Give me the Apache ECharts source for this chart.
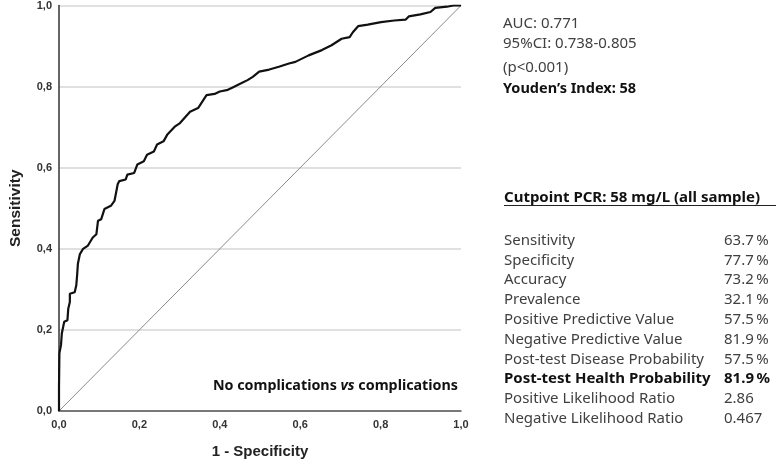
<!DOCTYPE html>
<html>
<head>
<meta charset="utf-8">
<script src="https://cdn.jsdelivr.net/npm/echarts@6/dist/echarts.min.js"></script>
<style>
  html, body { margin: 0; padding: 0; background: #fff; }
  #roc { width: 779px; height: 464px; }
</style>
</head>
<body>
<div id="roc"></div>
<script>
// ROC curve points (1 - specificity, sensitivity)
const fpr = [0, 0, 0.001, 0.005, 0.007, 0.013, 0.021, 0.023, 0.027, 0.027, 0.039, 0.043, 0.045, 0.047, 0.052,
  0.060, 0.072, 0.084, 0.093, 0.097, 0.105, 0.113, 0.129, 0.138, 0.146, 0.150, 0.166, 0.170, 0.187, 0.195,
  0.211, 0.219, 0.236, 0.244, 0.260, 0.269, 0.289, 0.301, 0.326, 0.346, 0.367, 0.387, 0.400, 0.420, 0.432,
  0.453, 0.469, 0.482, 0.498, 0.523, 0.547, 0.572, 0.588, 0.621, 0.654, 0.678, 0.703, 0.723, 0.731, 0.744,
  0.768, 0.801, 0.834, 0.862, 0.870, 0.899, 0.924, 0.936, 0.965, 0.981, 1.0];
const tpr = [0, 0.06, 0.142, 0.163, 0.191, 0.220, 0.224, 0.252, 0.269, 0.289, 0.293, 0.310, 0.334, 0.363, 0.387,
  0.400, 0.408, 0.428, 0.436, 0.469, 0.473, 0.498, 0.506, 0.518, 0.559, 0.567, 0.571, 0.583, 0.587, 0.608,
  0.616, 0.632, 0.640, 0.657, 0.665, 0.681, 0.702, 0.710, 0.738, 0.747, 0.779, 0.782, 0.788, 0.792, 0.798,
  0.808, 0.816, 0.824, 0.837, 0.842, 0.849, 0.857, 0.861, 0.877, 0.890, 0.902, 0.918, 0.922, 0.934, 0.949,
  0.953, 0.959, 0.963, 0.965, 0.973, 0.978, 0.984, 0.994, 0.997, 1.0, 1.0];
const refLine = [[0, 0], [1, 1]];

const summaryLines = ['AUC: 0.771', '95%CI: 0.738-0.805', '(p<0.001)'];
const youdenLine = 'Youden\u2019s Index: 58';
const cutpointTitle = 'Cutpoint PCR: 58 mg/L (all sample)';
const statNames = ['Sensitivity', 'Specificity', 'Accuracy', 'Prevalence', 'Positive Predictive Value',
  'Negative Predictive Value', 'Post-test Disease Probability', 'Post-test Health Probability',
  'Positive Likelihood Ratio', 'Negative Likelihood Ratio'];
const statValues = ['63.7\u2009%', '77.7\u2009%', '73.2\u2009%', '32.1\u2009%', '57.5\u2009%',
  '81.9\u2009%', '57.5\u2009%', '81.9\u2009%', '2.86', '0.467'];
const boldRow = 7;

const chart = echarts.init(document.getElementById('roc'));
const comma = v => v.toFixed(1).replace('.', ',');
const txtFont = '"Noto Sans", "Open Sans", sans-serif';
const axFont = 'Arial, "Liberation Sans", sans-serif';

let graphics = [];
summaryLines.forEach((t, i) => {
  graphics.push({ type: 'text', left: 503, top: [16, 36, 60][i],
    style: { text: t, font: '15px ' + txtFont, fill: '#404040' } });
});
graphics.push({ type: 'text', left: 503, top: 81,
  style: { text: youdenLine, font: 'bold 14.5px ' + txtFont, fill: '#111' } });
graphics.push({ type: 'text', left: 504, top: 190,
  style: { text: cutpointTitle, font: 'bold 15px ' + txtFont, fill: '#111' } });
graphics.push({ type: 'line', shape: { x1: 504, y1: 205.5, x2: 776, y2: 205.5 },
  style: { stroke: '#222', lineWidth: 1.2 } });
statNames.forEach((name, i) => {
  const y = 233 + i * 19.8;
  const b = i === boldRow;
  const f = (b ? 'bold ' : '') + '15px ' + txtFont;
  graphics.push({ type: 'text', left: 504, top: y,
    style: { text: name, font: f, fill: b ? '#111' : '#404040' } });
  graphics.push({ type: 'text', left: 724, top: y,
    style: { text: statValues[i], font: f, fill: b ? '#111' : '#404040' } });
});
graphics.push({ type: 'text', right: 321, top: 379,
  style: {
    text: '{b|No complications }{i|vs}{b| complications}',
    rich: {
      b: { font: 'bold 14.3px ' + txtFont, fill: '#111' },
      i: { font: 'italic bold 14.3px ' + txtFont, fill: '#111' }
    }
  } });

const option = {
  animation: false,
  backgroundColor: '#fff',
  grid: { left: 54, top: 5, width: 407, height: 408 },
  xAxis: {
    type: 'value', min: 0, max: 1, interval: 0.2,
    name: '1 - Specificity', nameLocation: 'middle', nameGap: 33,
    nameTextStyle: { fontFamily: axFont, fontWeight: 'bold', fontSize: 15, color: '#222' },
    axisLine: { lineStyle: { color: '#555', width: 1.5 } },
    axisTick: { show: false },
    axisLabel: { formatter: comma, fontFamily: axFont, fontWeight: 'bold', fontSize: 11, color: '#333', margin: 8 },
    splitLine: { show: false }
  },
  yAxis: {
    type: 'value', min: 0, max: 1, interval: 0.2,
    name: 'Sensitivity', nameLocation: 'middle', nameGap: 35,
    nameTextStyle: { fontFamily: axFont, fontWeight: 'bold', fontSize: 15.5, color: '#222' },
    axisLine: { show: true, lineStyle: { color: '#333', width: 1.5 } },
    axisTick: { show: false },
    axisLabel: { formatter: comma, fontFamily: axFont, fontWeight: 'bold', fontSize: 11, color: '#333', margin: 7 },
    splitLine: { show: true, lineStyle: { color: '#d6d6d6', width: 1.5 } }
  },
  series: [
    {
      type: 'line', data: refLine, symbol: 'none', silent: true,
      lineStyle: { color: '#8a8a8a', width: 1 }
    },
    {
      type: 'line', data: fpr.map((x, i) => [x, tpr[i]]), symbol: 'none',
      lineStyle: { color: '#111', width: 2.2 }
    }
  ],
  graphic: graphics
};
chart.setOption(option);
</script>
</body>
</html>
